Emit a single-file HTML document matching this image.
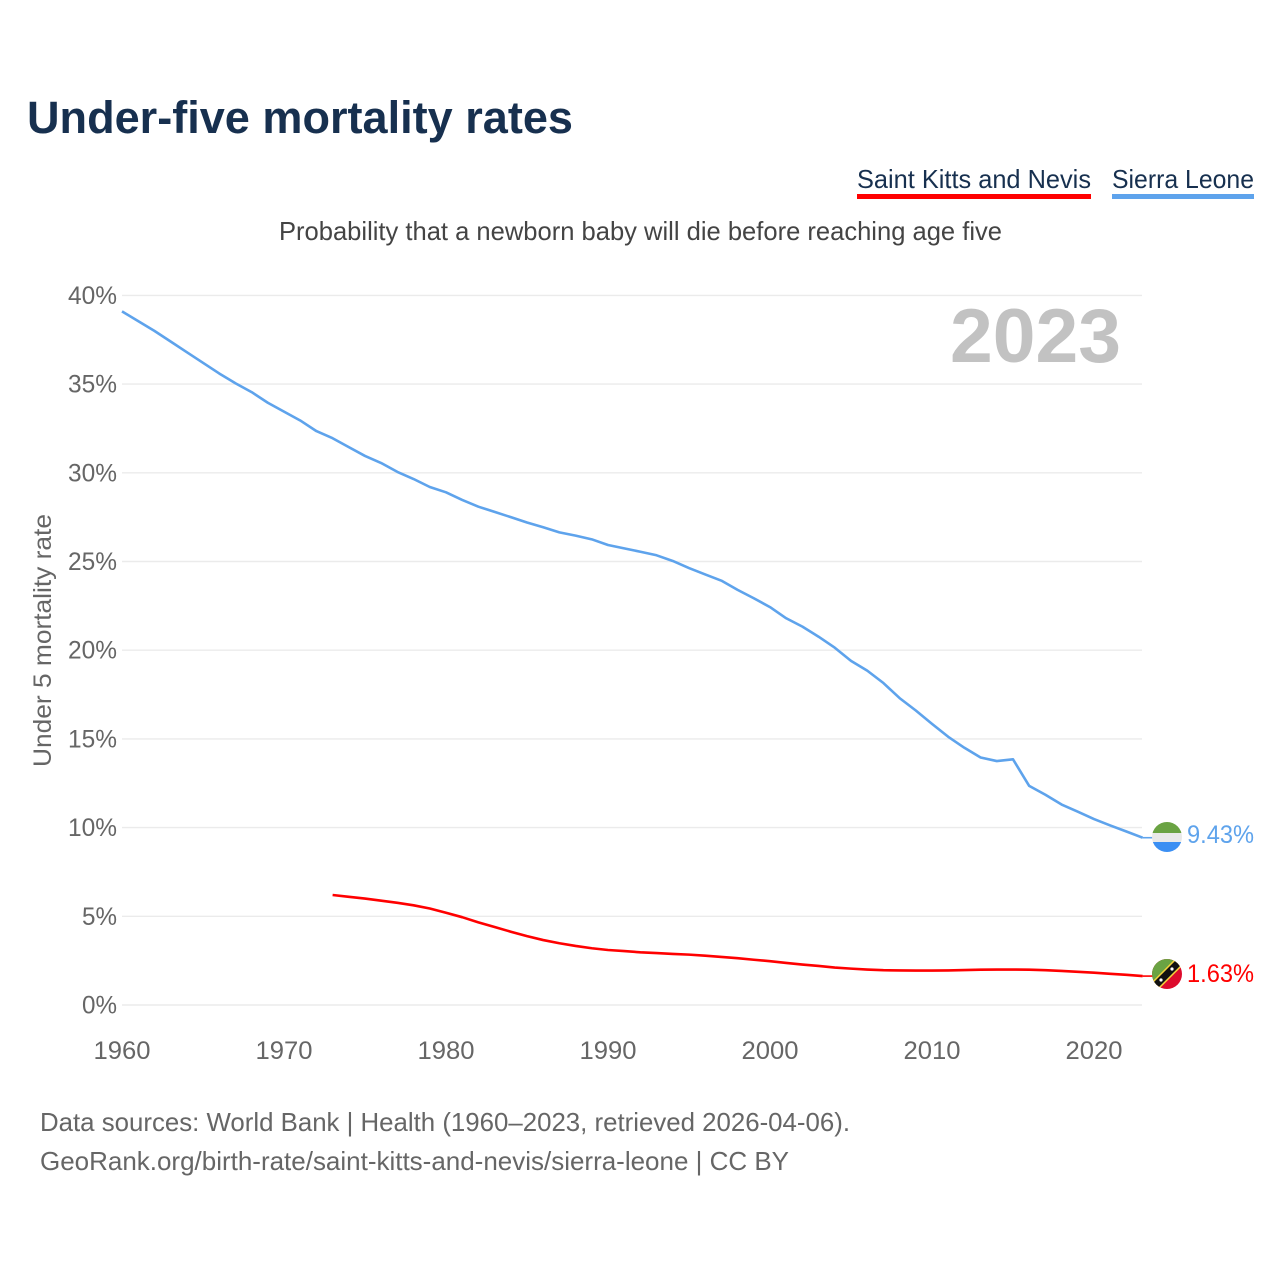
<!DOCTYPE html>
<html lang="en">
<head>
<meta charset="utf-8">
<title>Under-five mortality rates</title>
<style>
html,body{margin:0;padding:0;background:#fff;}
svg{display:block;font-family:"Liberation Sans",sans-serif;}
</style>
</head>
<body>
<svg id="chart" xmlns="http://www.w3.org/2000/svg" width="1280" height="1280" viewBox="0 0 1280 1280">
  <defs>
    <clipPath id="clip-sl"><circle cx="1167" cy="837" r="15"/></clipPath>
    <clipPath id="clip-kn"><circle cx="1167" cy="974" r="15"/></clipPath>
  </defs>
  <rect width="1280" height="1280" fill="#fff"/>
  <text x="27" y="133" font-size="45" font-weight="700" fill="#17304f" textLength="546" lengthAdjust="spacingAndGlyphs">Under-five mortality rates</text>

  <g>
    <text x="857" y="188" font-size="26" fill="#17304f" textLength="234" lengthAdjust="spacingAndGlyphs">Saint Kitts and Nevis</text>
    <rect x="857" y="194" width="234" height="5" fill="#ff0000"/>
  </g>
  <g>
    <text x="1112" y="188" font-size="26" fill="#17304f" textLength="142" lengthAdjust="spacingAndGlyphs">Sierra Leone</text>
    <rect x="1112" y="194" width="142" height="5" fill="#5ea3ec"/>
  </g>

  <text x="279" y="240" font-size="26" fill="#444" textLength="723" lengthAdjust="spacingAndGlyphs">Probability that a newborn baby will die before reaching age five</text>

  <g id="grid"></g>
  <g id="yticks"></g>
  <g id="xticks"></g>

  <text x="950" y="362" font-size="76" font-weight="700" fill="#c2c2c2" textLength="171" lengthAdjust="spacingAndGlyphs">2023</text>

  <text transform="translate(51,767) rotate(-90)" x="0" y="0" font-size="25" fill="#666" textLength="253" lengthAdjust="spacingAndGlyphs">Under 5 mortality rate</text>

  <path id="line-sl" fill="none" stroke="#5ea3ec" stroke-width="2.6" stroke-linejoin="round"/>
  <path id="line-kn" fill="none" stroke="#ff0000" stroke-width="2.6" stroke-linejoin="round"/>
  <line id="leader-sl" stroke="#5ea3ec" stroke-width="1.6"/>
  <line id="leader-kn" stroke="#ff0000" stroke-width="1.6"/>

  <g clip-path="url(#clip-sl)">
    <rect x="1152" y="822" width="30" height="11" fill="#6aa343"/>
    <rect x="1152" y="833" width="30" height="9" fill="#e9e9e9"/>
    <rect x="1152" y="842" width="30" height="10" fill="#3b8ff3"/>
  </g>
  <g clip-path="url(#clip-kn)">
    <rect x="1152" y="959" width="30" height="30" fill="#dd0b2c"/>
    <polygon points="1152,959 1182,959 1152,989" fill="#6aa343"/>
    <line x1="1150" y1="991" x2="1184" y2="957" stroke="#f5d33a" stroke-width="10"/>
    <line x1="1150" y1="991" x2="1184" y2="957" stroke="#111" stroke-width="7"/>
    <circle cx="1161" cy="980" r="1.6" fill="#fff"/>
    <circle cx="1172" cy="969" r="1.6" fill="#fff"/>
  </g>

  <text id="value-sl" x="1187" y="843" font-size="25" fill="#5ea3ec" textLength="67" lengthAdjust="spacingAndGlyphs"></text>
  <text id="value-kn" x="1187" y="982" font-size="25" fill="#ff0000" textLength="67" lengthAdjust="spacingAndGlyphs"></text>

  <text x="40" y="1131" font-size="26" fill="#666" textLength="810" lengthAdjust="spacingAndGlyphs">Data sources: World Bank | Health (1960–2023, retrieved 2026-04-06).</text>
  <text x="40" y="1170" font-size="26" fill="#666" textLength="749" lengthAdjust="spacingAndGlyphs">GeoRank.org/birth-rate/saint-kitts-and-nevis/sierra-leone | CC BY</text>
</svg>
<script>
var yTickValues = [0, 5, 10, 15, 20, 25, 30, 35, 40];
var xTickYears = [1960, 1970, 1980, 1990, 2000, 2010, 2020];
var sierraLeoneStartYear = 1960;
var sierraLeoneValues = [39.1,38.55,38.0,37.4,36.8,36.2,35.6,35.05,34.55,33.95,33.45,32.95,32.35,31.95,31.45,30.95,30.55,30.05,29.65,29.2,28.9,28.47,28.09,27.8,27.5,27.2,26.93,26.64,26.46,26.25,25.93,25.74,25.55,25.35,25.03,24.63,24.27,23.92,23.4,22.93,22.43,21.8,21.33,20.76,20.14,19.4,18.85,18.15,17.3,16.6,15.85,15.12,14.5,13.95,13.75,13.85,12.35,11.85,11.3,10.9,10.48,10.12,9.78,9.43];
var saintKittsStartYear = 1973;
var saintKittsValues = [6.2,6.1,6.0,5.88,5.76,5.62,5.44,5.2,4.95,4.66,4.4,4.13,3.88,3.66,3.48,3.33,3.2,3.1,3.04,2.97,2.93,2.88,2.84,2.78,2.71,2.64,2.55,2.47,2.37,2.28,2.2,2.11,2.05,2.0,1.96,1.95,1.94,1.94,1.95,1.97,1.99,2.0,2.0,1.99,1.96,1.92,1.87,1.82,1.76,1.7,1.63];

function xScale(year) { return 122 + (year - 1960) * 16.2; }
function yScale(pct) { return 1005 - pct * 17.74; }

var NS = 'http://www.w3.org/2000/svg';
var gridG = document.getElementById('grid');
var yG = document.getElementById('yticks');
var xG = document.getElementById('xticks');

yTickValues.forEach(function (v) {
  var l = document.createElementNS(NS, 'line');
  
  
  l.setAttribute('x1', 122);
  l.setAttribute('x2', 1142);
  l.setAttribute('y1', yScale(v));
  l.setAttribute('y2', yScale(v));
  l.setAttribute('stroke', '#ebebeb');
  l.setAttribute('stroke-width', '1.4');
  gridG.appendChild(l);

  var t = document.createElementNS(NS, 'text');
  
  
  t.setAttribute('x', 117);
  t.setAttribute('y', yScale(v) + 8.5);
  t.setAttribute('text-anchor', 'end');
  t.setAttribute('font-size', '25');
  t.setAttribute('fill', '#666');
  t.setAttribute('textLength', v >= 10 ? 49 : 35);
  t.setAttribute('lengthAdjust', 'spacingAndGlyphs');
  t.textContent = v + '%';
  yG.appendChild(t);
});

xTickYears.forEach(function (yr) {
  var t = document.createElementNS(NS, 'text');
  
  
  t.setAttribute('x', xScale(yr));
  t.setAttribute('y', 1059);
  t.setAttribute('text-anchor', 'middle');
  t.setAttribute('font-size', '25');
  t.setAttribute('fill', '#666');
  t.setAttribute('textLength', 57);
  t.setAttribute('lengthAdjust', 'spacingAndGlyphs');
  t.textContent = yr;
  xG.appendChild(t);
});

function linePath(values, startYear) {
  return values.map(function (v, i) {
    return (i ? 'L' : 'M') + xScale(startYear + i).toFixed(2) + ' ' + yScale(v).toFixed(2);
  }).join(' ');
}
document.getElementById('line-sl').setAttribute('d', linePath(sierraLeoneValues, sierraLeoneStartYear));
document.getElementById('line-kn').setAttribute('d', linePath(saintKittsValues, saintKittsStartYear));

function leader(id, values) {
  var last = values[values.length - 1];
  var el = document.getElementById(id);
  el.setAttribute('x1', xScale(2023));
  el.setAttribute('x2', xScale(2023) + 10);
  el.setAttribute('y1', yScale(last));
  el.setAttribute('y2', yScale(last));
}
leader('leader-sl', sierraLeoneValues);
leader('leader-kn', saintKittsValues);

document.getElementById('value-sl').textContent = sierraLeoneValues[sierraLeoneValues.length - 1].toFixed(2) + '%';
document.getElementById('value-kn').textContent = saintKittsValues[saintKittsValues.length - 1].toFixed(2) + '%';
</script>
</body>
</html>
